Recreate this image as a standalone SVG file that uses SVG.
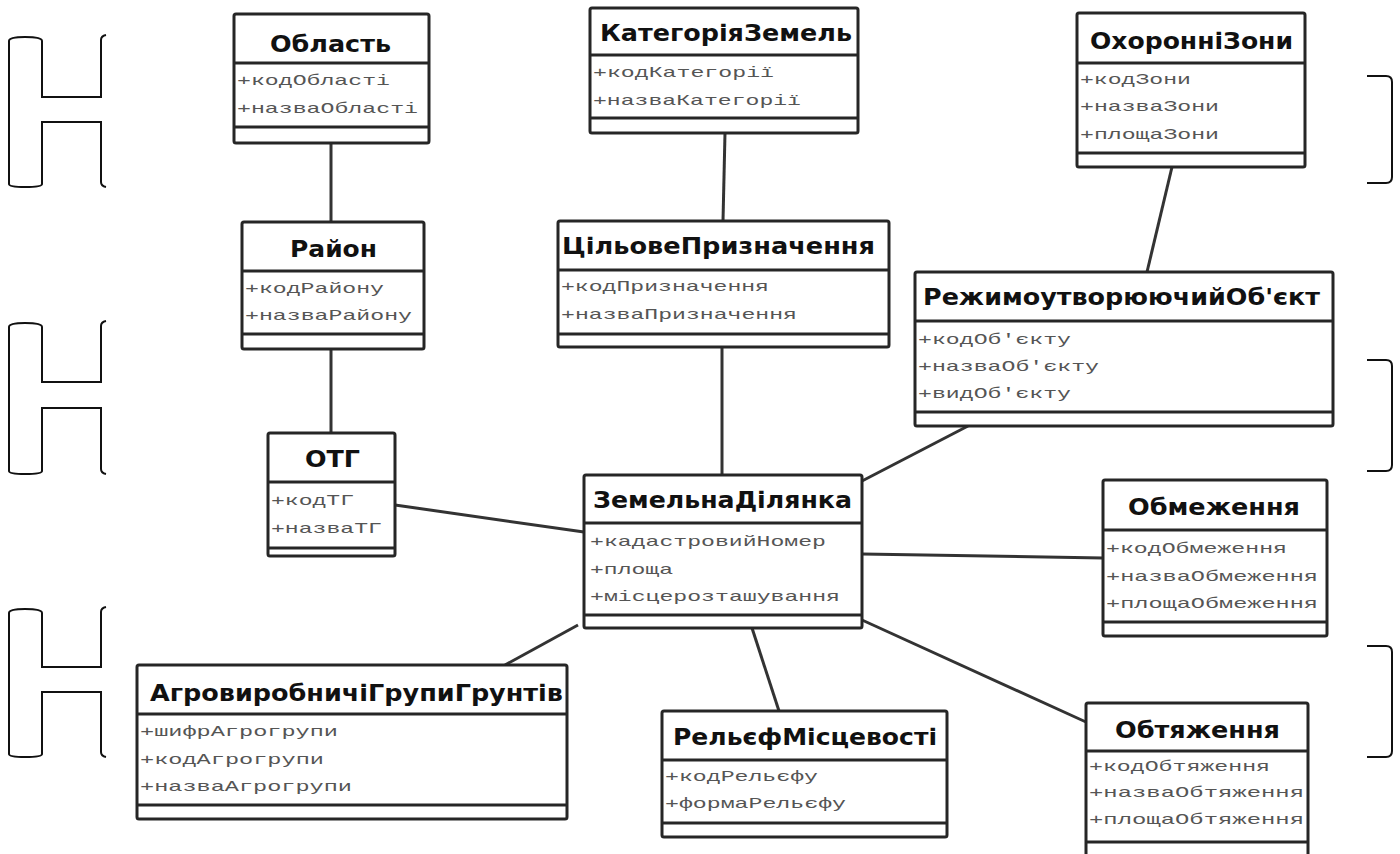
<svg xmlns="http://www.w3.org/2000/svg" width="1400" height="854" viewBox="0 0 1400 854">
<style>
.box{fill:#fff;stroke:#262626;stroke-width:3}
.div{stroke:#262626;stroke-width:3}
.t{font-family:"DejaVu Sans","Liberation Sans",sans-serif;font-weight:bold;font-size:23px;fill:#111}
.a{font-family:"Liberation Mono","DejaVu Sans Mono",monospace;font-size:15px;fill:#555}
.con line{stroke:#333;stroke-width:3}
.br{fill:none;stroke:#111;stroke-width:2}
</style>
<rect width="1400" height="854" fill="#fff"/>
<g id="decor">
<path class="br" d="M9,184 V41 Q9,37 25,37 Q42,37 42,41 V97 H101 V40 Q101,36 106,35"/>
<path class="br" d="M9,184 Q9,187 25,187 Q42,187 42,184 V122 H101 V182 Q101,186 106,187"/>
<path class="br" d="M9,471 V327 Q9,323 25,323 Q42,323 42,327 V382 H101 V326 Q101,322 106,321"/>
<path class="br" d="M9,471 Q9,474 25,474 Q42,474 42,471 V408 H101 V469 Q101,473 106,474"/>
<path class="br" d="M9,754 V613 Q9,609 25,609 Q42,609 42,613 V667 H101 V612 Q101,608 106,607"/>
<path class="br" d="M9,754 Q9,757 25,757 Q42,757 42,754 V692 H101 V752 Q101,756 106,757"/>
<path class="br" d="M1367,76 H1386 Q1392,76 1392,82 V177 Q1392,183 1386,183 H1367"/>
<path class="br" d="M1367,360 H1386 Q1392,360 1392,366 V465 Q1392,471 1386,471 H1367"/>
<path class="br" d="M1367,646 H1386 Q1392,646 1392,652 V751 Q1392,757 1386,757 H1367"/>
</g>
<g id="connectors" class="con">
<line x1="331" y1="143" x2="331" y2="222"/>
<line x1="331" y1="349" x2="331" y2="433"/>
<line x1="725" y1="133" x2="723" y2="221"/>
<line x1="722" y1="347" x2="722" y2="475"/>
<line x1="1172" y1="167" x2="1147" y2="272"/>
<line x1="968" y1="426" x2="862" y2="481"/>
<line x1="395" y1="505" x2="584" y2="532"/>
<line x1="862" y1="554" x2="1103" y2="558"/>
<line x1="578" y1="625" x2="505" y2="665"/>
<line x1="752" y1="628" x2="779" y2="711"/>
<line x1="862" y1="620" x2="1086" y2="722"/>
</g>
<g id="oblast">
<rect class="box" x="234" y="14" width="195" height="129" rx="2"/>
<line class="div" x1="234" y1="63" x2="429" y2="63"/>
<line class="div" x1="234" y1="127" x2="429" y2="127"/>
<text class="t" x="270" y="52" textLength="121" lengthAdjust="spacingAndGlyphs">Область</text>
<text class="a" x="237" y="85" textLength="153" lengthAdjust="spacingAndGlyphs">+кодОбласті</text>
<text class="a" x="237" y="113" textLength="181" lengthAdjust="spacingAndGlyphs">+назваОбласті</text>
</g>
<g id="kategoriia">
<rect class="box" x="590" y="8" width="268" height="125" rx="2"/>
<line class="div" x1="590" y1="55" x2="858" y2="55"/>
<line class="div" x1="590" y1="118" x2="858" y2="118"/>
<text class="t" x="600" y="41" textLength="252" lengthAdjust="spacingAndGlyphs">КатегоріяЗемель</text>
<text class="a" x="593" y="77" textLength="181" lengthAdjust="spacingAndGlyphs">+кодКатегорії</text>
<text class="a" x="593" y="105" textLength="208" lengthAdjust="spacingAndGlyphs">+назваКатегорії</text>
</g>
<g id="okhoronni">
<rect class="box" x="1077" y="13" width="228" height="154" rx="2"/>
<line class="div" x1="1077" y1="63" x2="1305" y2="63"/>
<line class="div" x1="1077" y1="153" x2="1305" y2="153"/>
<text class="t" x="1090" y="49" textLength="203" lengthAdjust="spacingAndGlyphs">ОхоронніЗони</text>
<text class="a" x="1080" y="84" textLength="111" lengthAdjust="spacingAndGlyphs">+кодЗони</text>
<text class="a" x="1080" y="111" textLength="139" lengthAdjust="spacingAndGlyphs">+назваЗони</text>
<text class="a" x="1080" y="139" textLength="139" lengthAdjust="spacingAndGlyphs">+площаЗони</text>
</g>
<g id="raion">
<rect class="box" x="242" y="222" width="182" height="127" rx="2"/>
<line class="div" x1="242" y1="271" x2="424" y2="271"/>
<line class="div" x1="242" y1="334" x2="424" y2="334"/>
<text class="t" x="290" y="257" textLength="87" lengthAdjust="spacingAndGlyphs">Район</text>
<text class="a" x="245" y="293" textLength="139" lengthAdjust="spacingAndGlyphs">+кодРайону</text>
<text class="a" x="245" y="320" textLength="167" lengthAdjust="spacingAndGlyphs">+назваРайону</text>
</g>
<g id="tsilove">
<rect class="box" x="558" y="221" width="331" height="126" rx="2"/>
<line class="div" x1="558" y1="270" x2="889" y2="270"/>
<line class="div" x1="558" y1="334" x2="889" y2="334"/>
<text class="t" x="562" y="254" textLength="313" lengthAdjust="spacingAndGlyphs">ЦільовеПризначення</text>
<text class="a" x="561" y="291" textLength="208" lengthAdjust="spacingAndGlyphs">+кодПризначення</text>
<text class="a" x="561" y="319" textLength="236" lengthAdjust="spacingAndGlyphs">+назваПризначення</text>
</g>
<g id="rezhym">
<rect class="box" x="915" y="272" width="418" height="154" rx="2"/>
<line class="div" x1="915" y1="321" x2="1333" y2="321"/>
<line class="div" x1="915" y1="412" x2="1333" y2="412"/>
<text class="t" x="923" y="305" textLength="397" lengthAdjust="spacingAndGlyphs">РежимоутворюючийОб'єкт</text>
<text class="a" x="918" y="344" textLength="153" lengthAdjust="spacingAndGlyphs">+кодОб'єкту</text>
<text class="a" x="918" y="371" textLength="181" lengthAdjust="spacingAndGlyphs">+назваОб'єкту</text>
<text class="a" x="918" y="398" textLength="153" lengthAdjust="spacingAndGlyphs">+видОб'єкту</text>
</g>
<g id="otg">
<rect class="box" x="268" y="433" width="127" height="123" rx="2"/>
<line class="div" x1="268" y1="482" x2="395" y2="482"/>
<line class="div" x1="268" y1="548" x2="395" y2="548"/>
<text class="t" x="305" y="467" textLength="55" lengthAdjust="spacingAndGlyphs">ОТГ</text>
<text class="a" x="271" y="505" textLength="83" lengthAdjust="spacingAndGlyphs">+кодТГ</text>
<text class="a" x="271" y="533" textLength="111" lengthAdjust="spacingAndGlyphs">+назваТГ</text>
</g>
<g id="zemelna">
<rect class="box" x="584" y="475" width="278" height="153" rx="2"/>
<line class="div" x1="584" y1="523" x2="862" y2="523"/>
<line class="div" x1="584" y1="615" x2="862" y2="615"/>
<text class="t" x="593" y="508" textLength="259" lengthAdjust="spacingAndGlyphs">ЗемельнаДілянка</text>
<text class="a" x="590" y="546" textLength="236" lengthAdjust="spacingAndGlyphs">+кадастровийНомер</text>
<text class="a" x="590" y="574" textLength="83" lengthAdjust="spacingAndGlyphs">+площа</text>
<text class="a" x="590" y="601" textLength="250" lengthAdjust="spacingAndGlyphs">+місцерозташування</text>
</g>
<g id="obmezhennia">
<rect class="box" x="1103" y="480" width="224" height="156" rx="2"/>
<line class="div" x1="1103" y1="530" x2="1327" y2="530"/>
<line class="div" x1="1103" y1="622" x2="1327" y2="622"/>
<text class="t" x="1128" y="515" textLength="172" lengthAdjust="spacingAndGlyphs">Обмеження</text>
<text class="a" x="1106" y="553" textLength="181" lengthAdjust="spacingAndGlyphs">+кодОбмеження</text>
<text class="a" x="1106" y="581" textLength="212" lengthAdjust="spacingAndGlyphs">+назваОбмеження</text>
<text class="a" x="1106" y="608" textLength="212" lengthAdjust="spacingAndGlyphs">+площаОбмеження</text>
</g>
<g id="agro">
<rect class="box" x="137" y="665" width="430" height="154" rx="2"/>
<line class="div" x1="137" y1="714" x2="567" y2="714"/>
<line class="div" x1="137" y1="805" x2="567" y2="805"/>
<text class="t" x="150" y="701" textLength="413" lengthAdjust="spacingAndGlyphs">АгровиробничіГрупиГрунтів</text>
<text class="a" x="140" y="736" textLength="198" lengthAdjust="spacingAndGlyphs">+шифрАгрогрупи</text>
<text class="a" x="140" y="764" textLength="184" lengthAdjust="spacingAndGlyphs">+кодАгрогрупи</text>
<text class="a" x="140" y="791" textLength="212" lengthAdjust="spacingAndGlyphs">+назваАгрогрупи</text>
</g>
<g id="relief">
<rect class="box" x="662" y="711" width="285" height="126" rx="2"/>
<line class="div" x1="662" y1="760" x2="947" y2="760"/>
<line class="div" x1="662" y1="823" x2="947" y2="823"/>
<text class="t" x="673" y="745" textLength="264" lengthAdjust="spacingAndGlyphs">РельєфМісцевості</text>
<text class="a" x="665" y="781" textLength="153" lengthAdjust="spacingAndGlyphs">+кодРельєфу</text>
<text class="a" x="665" y="808" textLength="181" lengthAdjust="spacingAndGlyphs">+формаРельєфу</text>
</g>
<g id="obtiazhennia">
<rect class="box" x="1086" y="703" width="222" height="156" rx="2"/>
<line class="div" x1="1086" y1="751" x2="1308" y2="751"/>
<line class="div" x1="1086" y1="842" x2="1308" y2="842"/>
<text class="t" x="1115" y="738" textLength="165" lengthAdjust="spacingAndGlyphs">Обтяження</text>
<text class="a" x="1089" y="771" textLength="181" lengthAdjust="spacingAndGlyphs">+кодОбтяження</text>
<text class="a" x="1089" y="797" textLength="215" lengthAdjust="spacingAndGlyphs">+назваОбтяження</text>
<text class="a" x="1089" y="824" textLength="215" lengthAdjust="spacingAndGlyphs">+площаОбтяження</text>
</g>
</svg>
